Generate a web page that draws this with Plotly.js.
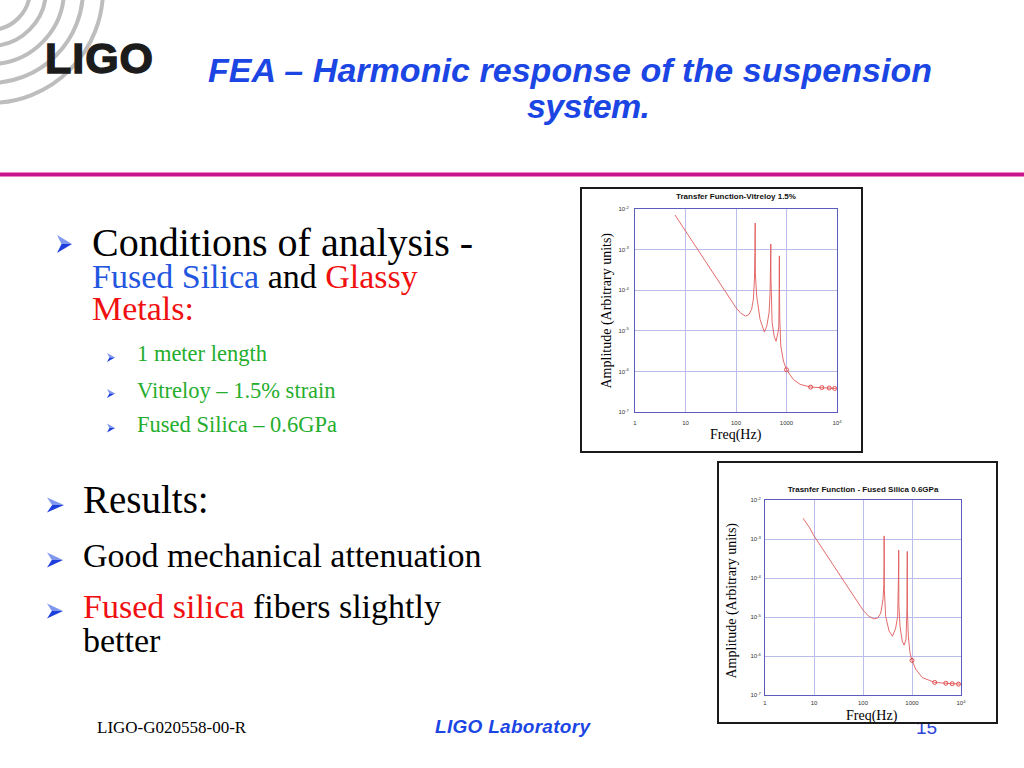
<!DOCTYPE html>
<html><head><meta charset="utf-8">
<script src="https://cdn.plot.ly/plotly-3.0.1.min.js"></script>
<style>
html,body{margin:0;padding:0;background:#fff;}
#slide{position:relative;width:1024px;height:768px;overflow:hidden;background:#fff;}
#bg{position:absolute;left:0;top:0;}
.chart{position:absolute;border:2px solid #1a1a1a;background:#fff;}
#c1{left:580px;top:187px;width:279px;height:262px;}
#c2{left:717px;top:461px;width:277px;height:259px;}
</style></head>
<body><div id="slide">
<svg id="bg" width="1024" height="768" xmlns="http://www.w3.org/2000/svg">
  <g fill="none" stroke="#bdbdbd" stroke-width="4">
    <circle cx="-10" cy="-10" r="40"/>
    <circle cx="-10" cy="-10" r="56"/>
    <circle cx="-10" cy="-10" r="74"/>
    <circle cx="-10" cy="-10" r="93"/>
    <circle cx="-10" cy="-10" r="113"/>
  </g>
  <text x="45" y="73" style="font-family:'Liberation Sans',Arial;font-weight:bold;font-size:43px" fill="#1c1c1c" stroke="#1c1c1c" stroke-width="1.4" textLength="108">LIGO</text>
  <text x="208" y="82" style="font-family:'Liberation Sans',Arial;font-weight:bold;font-style:italic;font-size:34px" fill="#1b46e4" textLength="724">FEA – Harmonic response of the suspension</text>
  <text x="527" y="118" style="font-family:'Liberation Sans',Arial;font-weight:bold;font-style:italic;font-size:34px" fill="#1b46e4" textLength="123">system.</text>
  <rect x="0" y="172" width="1024" height="5" fill="#ea86c8"/>
  <rect x="0" y="173" width="1024" height="3" fill="#c8168f"/>
  <g id="bullets"></g>
  <text x="92" y="256" style="font-family:'Liberation Serif','Times New Roman';font-size:40px" fill="#000">Conditions of analysis -</text>
  <text x="92" y="288" style="font-family:'Liberation Serif','Times New Roman';font-size:34px" fill="#000"><tspan fill="#2356e0" style="font-size:34px">Fused Silica</tspan><tspan fill="#000" style="font-size:34px"> and </tspan><tspan fill="#f01010" style="font-size:34px">Glassy</tspan></text>
  <text x="92" y="320" style="font-family:'Liberation Serif','Times New Roman';font-size:34px" fill="#f01010">Metals:</text>
  <text x="137" y="361" style="font-family:'Liberation Serif','Times New Roman';font-size:22.5px" fill="#25ad2d">1 meter length</text>
  <text x="137" y="397.5" style="font-family:'Liberation Serif','Times New Roman';font-size:22.5px" fill="#25ad2d">Vitreloy – 1.5% strain</text>
  <text x="137" y="432" style="font-family:'Liberation Serif','Times New Roman';font-size:22.5px" fill="#25ad2d">Fused Silica – 0.6GPa</text>
  <text x="83" y="512.5" style="font-family:'Liberation Serif','Times New Roman';font-size:39px" fill="#000">Results:</text>
  <text x="83" y="566.5" style="font-family:'Liberation Serif','Times New Roman';font-size:34px" fill="#000">Good mechanical attenuation</text>
  <text x="83" y="618" style="font-family:'Liberation Serif','Times New Roman';font-size:34px" fill="#000"><tspan fill="#f01010" style="font-size:34px">Fused silica</tspan><tspan fill="#000" style="font-size:34px"> fibers slightly</tspan></text>
  <text x="83" y="651.5" style="font-family:'Liberation Serif','Times New Roman';font-size:34px" fill="#000">better</text>
  <text x="97" y="733" style="font-family:'Liberation Serif','Times New Roman';font-size:17px" fill="#000">LIGO-G020558-00-R</text>
  <text x="435" y="733" style="font-family:'Liberation Sans',Arial;font-weight:bold;font-style:italic;font-size:19px" fill="#1b46e4" textLength="155">LIGO Laboratory</text>
  <text x="916" y="734" style="font-family:'Liberation Sans',Arial;font-size:19px" fill="#2a45d8">15</text>
</svg>
<div id="c1" class="chart"></div>
<div id="c2" class="chart"></div>
</div>
<script>
// Vitreloy 1.5% transfer function
const vitFreq = [6.2, 8, 10, 15, 20, 30, 50, 70, 100, 125, 155, 180, 204, 221, 232, 237, 239.5, 240, 240.5, 242, 248, 257, 300, 365, 407, 452, 473, 484, 489, 490, 490.5, 492, 500, 519, 569, 620, 676, 704, 716, 722, 724, 726, 735, 771, 870, 1000, 1370, 1860, 3000, 5000, 7000, 9000, 9500];
const vitAmp = [7.1e-3, 4.4e-3, 2.8e-3, 1.3e-3, 7.5e-4, 3.5e-4, 1.35e-4, 7.0e-5, 3.7e-5, 2.7e-5, 2.3e-5, 2.5e-5, 3.4e-5, 6.0e-5, 1.9e-4, 8.5e-4, 2.5e-3, 4.5e-3, 8.5e-4, 2.5e-4, 1.2e-4, 7.2e-5, 1.9e-5, 9.3e-6, 1.3e-5, 2.8e-5, 8.7e-5, 4.0e-4, 1.37e-3, 1.2e-3, 8.0e-4, 2.0e-4, 5.0e-5, 1.6e-5, 7.4e-6, 5.5e-6, 9.0e-6, 1.3e-5, 1.1e-4, 7.0e-4, 3.0e-4, 1.1e-4, 2.0e-5, 4.2e-6, 1.8e-6, 1.1e-6, 6.3e-7, 4.8e-7, 4.1e-7, 4.0e-7, 3.9e-7, 3.8e-7, 3.8e-7];
const vitMarkFreq = [1000, 3000, 5000, 7000, 9000];
const vitMarkAmp = [1.1e-6, 4.1e-7, 4.0e-7, 3.9e-7, 3.8e-7];

// Fused silica 0.6GPa transfer function
const fsFreq = [6, 8, 10, 15, 20, 38, 60, 100, 130, 167, 200, 230, 256, 266, 269.5, 270, 270.5, 273, 290, 340, 400, 464, 510, 530, 534.5, 535, 535.5, 540, 569, 632, 690, 755, 790, 798, 800, 801, 806, 842, 910, 1000, 1190, 1620, 2900, 4900, 6600, 8900, 9500];
const fsAmp = [3.4e-3, 2.0e-3, 1.2e-3, 5.5e-4, 3.1e-4, 9.0e-5, 3.7e-5, 1.5e-5, 1.05e-5, 8.9e-6, 9.5e-6, 1.26e-5, 2.8e-5, 6.7e-5, 3.0e-4, 1.2e-3, 3.0e-4, 5.0e-5, 1.04e-5, 4.4e-6, 3.2e-6, 5.2e-6, 1.04e-5, 5.7e-5, 2.0e-4, 5.2e-4, 1.5e-4, 2.0e-5, 5.8e-6, 2.4e-6, 1.9e-6, 2.7e-6, 1.7e-5, 1.2e-4, 4.8e-4, 1.5e-4, 1.5e-5, 3.2e-6, 1.2e-6, 7.7e-7, 4.6e-7, 2.8e-7, 2.1e-7, 2.0e-7, 1.95e-7, 1.9e-7, 1.9e-7];
const fsMarkFreq = [1000, 2900, 4900, 6600, 8900];
const fsMarkAmp = [7.7e-7, 2.1e-7, 2.0e-7, 1.95e-7, 1.9e-7];

const xTickVals = [1, 10, 100, 1000, 10000];
const xTickText = ['1', '10', '100', '1000', '10<sup>4</sup>'];
const yTickVals = [1e-7, 1e-6, 1e-5, 1e-4, 1e-3, 1e-2];
const yTickText = ['10<sup>-7</sup>', '10<sup>-6</sup>', '10<sup>-5</sup>', '10<sup>-4</sup>', '10<sup>-3</sup>', '10<sup>-2</sup>'];

const chart1Title = 'Transfer Function-Vitreloy 1.5%';
const chart2Title = 'Trasnfer Function - Fused Silica 0.6GPa';
const yTitleText = 'Amplitude (Arbitrary units)';
const xTitleText = 'Freq(Hz)';

// slide bullet arrowheads (decorative)
(function () {
  const g = document.getElementById('bullets');
  const NS = 'http://www.w3.org/2000/svg';
  const list = [[57, 244, 15, 18], [107, 357.5, 8, 9], [107, 393.5, 8, 9], [107, 428, 8, 9],
                [47, 505, 17, 15], [47, 560, 16, 15], [47, 611, 16, 15]];
  list.forEach(function (b) {
    const x = b[0], cy = b[1], w = b[2], h = b[3];
    const notch = x + w * 0.3;
    const top = document.createElementNS(NS, 'path');
    top.setAttribute('d', 'M' + x + ' ' + (cy - h / 2) + 'L' + (x + w) + ' ' + cy + 'L' + notch + ' ' + cy + 'Z');
    top.setAttribute('fill', '#7f98ee');
    const bot = document.createElementNS(NS, 'path');
    bot.setAttribute('d', 'M' + notch + ' ' + cy + 'L' + (x + w) + ' ' + cy + 'L' + x + ' ' + (cy + h / 2) + 'Z');
    bot.setAttribute('fill', '#1e3fdc');
    g.appendChild(top); g.appendChild(bot);
  });
})();

function makeChart(id, freq, amp, mf, ma, title, g) {
  const axisCommon = {
    type: 'log', tickmode: 'array', showgrid: true, gridcolor: '#bcbcec', gridwidth: 1,
    showline: true, linecolor: '#5c5cbf', linewidth: 1, mirror: true, zeroline: false,
    ticks: '', tickfont: {family: 'Liberation Sans, Arial', size: 6, color: '#333'}, fixedrange: true
  };
  const traces = [
    {x: freq, y: amp, mode: 'lines', line: {color: '#e05a5a', width: 0.9}, hoverinfo: 'skip'},
    {x: mf, y: ma, mode: 'markers', marker: {symbol: 'circle-open', size: 4, color: '#e03c3c', line: {width: 0.9}}, hoverinfo: 'skip'}
  ];
  const layout = {
    width: g.w, height: g.h,
    margin: {l: g.l, r: g.r, t: g.t, b: g.b, pad: 0},
    paper_bgcolor: '#ffffff', plot_bgcolor: '#ffffff', showlegend: false,
    title: {text: '<b>' + title + '</b>', font: {family: 'Liberation Sans, Arial', size: 8, color: '#111'},
            x: 0.5, xref: 'paper', xanchor: 'center', y: g.ty, yref: 'container', yanchor: 'middle'},
    xaxis: Object.assign({}, axisCommon, {range: [0, 4], tickvals: xTickVals, ticktext: xTickText, ticklabelstandoff: g.xs}),
    yaxis: Object.assign({}, axisCommon, {range: [-7, -2], tickvals: yTickVals, ticktext: yTickText, ticklabelstandoff: g.ys}),
    annotations: [
      {text: yTitleText, xref: 'paper', yref: 'paper', x: 0, y: 0.5, xanchor: 'center', yanchor: 'middle',
       xshift: g.yx, yshift: g.yy, textangle: -90, showarrow: false,
       font: {family: 'Liberation Serif, Times New Roman', size: 14, color: '#000'}},
      {text: xTitleText, xref: 'paper', yref: 'paper', x: 0.5, y: 0, xanchor: 'center', yanchor: 'middle',
       xshift: g.xx, yshift: g.xy, showarrow: false,
       font: {family: 'Liberation Serif, Times New Roman', size: 14, color: '#000'}}
    ]
  };
  Plotly.newPlot(id, traces, layout, {staticPlot: true, displayModeBar: false});
}

makeChart('c1', vitFreq, vitAmp, vitMarkFreq, vitMarkAmp, chart1Title,
  {w: 279, h: 262, l: 53, r: 24, t: 20, b: 39, ty: 0.973, xs: 5, ys: 4, yx: -29, yy: 0, xx: 0, xy: -23});
makeChart('c2', fsFreq, fsAmp, fsMarkFreq, fsMarkAmp, chart2Title,
  {w: 277, h: 259, l: 46, r: 35, t: 37, b: 27, ty: 0.9, xs: 2, ys: 2, yx: -34, yy: -3, xx: 9, xy: -21});
</script>
</body></html>
